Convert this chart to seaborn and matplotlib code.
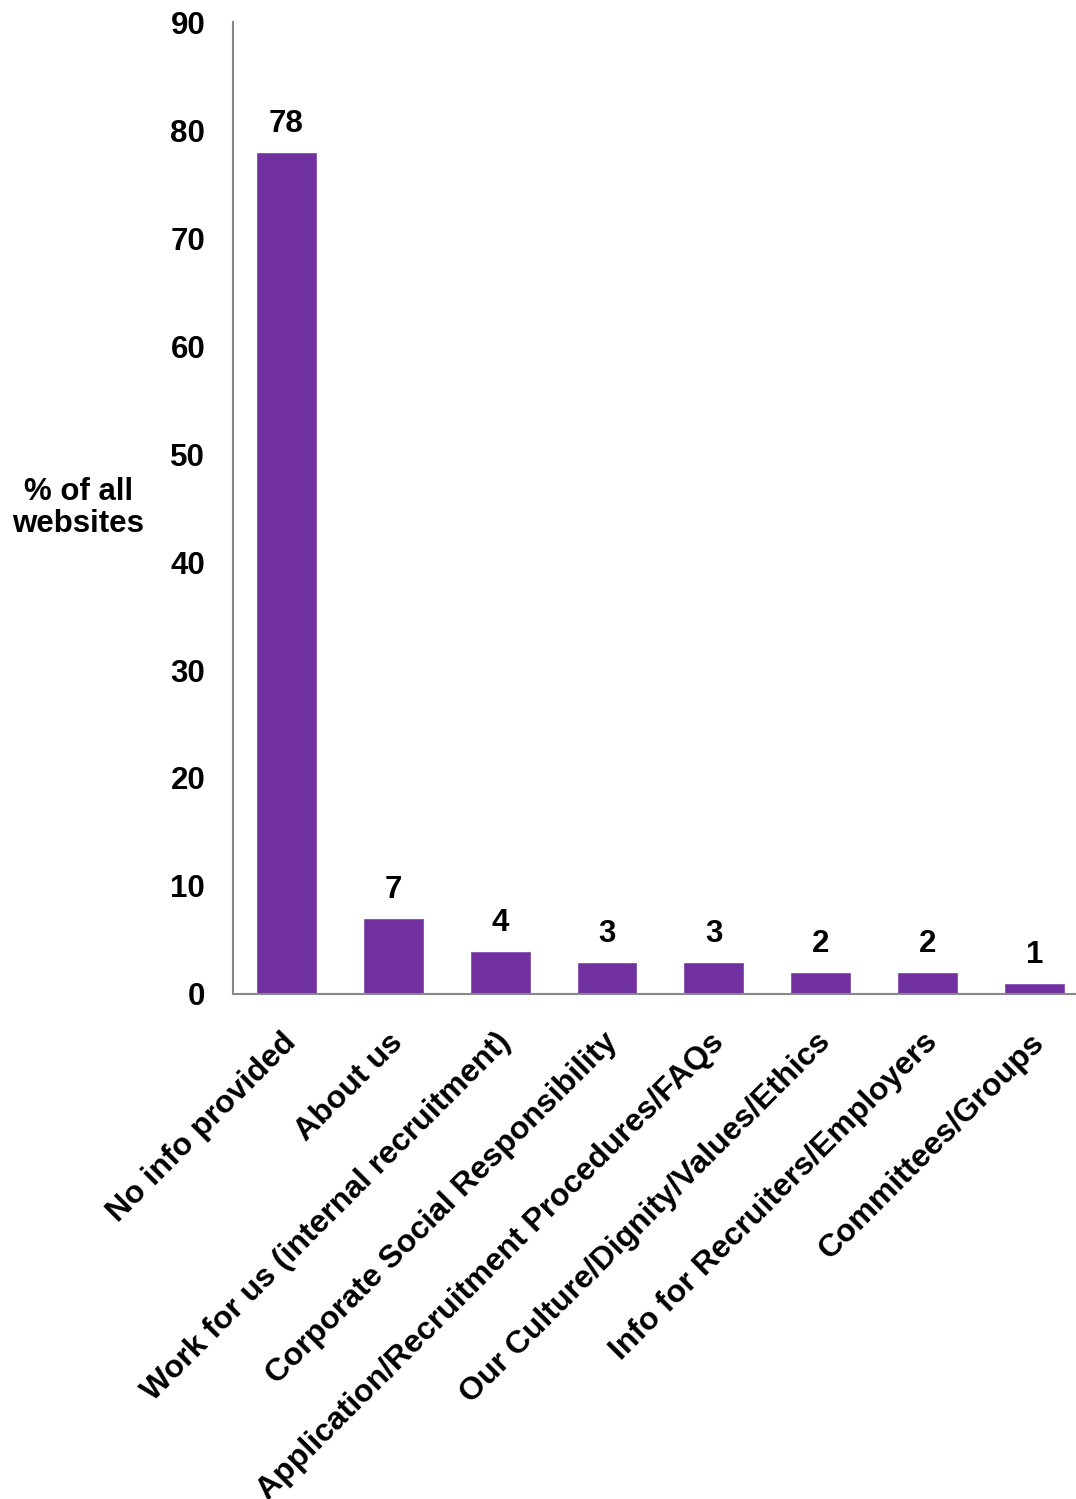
import seaborn as sns
import pandas as pd
import matplotlib.pyplot as plt
from matplotlib.transforms import ScaledTranslation

categories = ['No info provided', 'About us', 'Work for us (internal recruitment)',
              'Corporate Social Responsibility', 'Application/Recruitment Procedures/FAQs',
              'Our Culture/Dignity/Values/Ethics', 'Info for Recruiters/Employers',
              'Committees/Groups']
values = [78, 7, 4, 3, 3, 2, 2, 1]

df = pd.DataFrame({'cat': categories, 'val': values})

sns.set_style('white')
plt.rcParams['font.family'] = ['Liberation Sans', 'DejaVu Sans']
plt.rcParams['font.weight'] = 'bold'
plt.rcParams['text.color'] = 'black'
plt.rcParams['xtick.color'] = 'black'
plt.rcParams['ytick.color'] = 'black'

fig = plt.figure(figsize=(10.76, 14.99), dpi=100)
ax = fig.add_axes([0.2165, 0.3369, 0.7946, 0.6484])

sns.barplot(data=df, x='cat', y='val', color='#7030A0', saturation=1, width=0.57, ax=ax)

for i, v in enumerate(values):
    ax.text(i, v + 1.2, str(v), ha='center', va='bottom', fontsize=22.5,
            fontweight='bold', color='black')

ax.set_ylim(0, 90)
ax.set_xlim(-0.5, 7.5)
ax.set_yticks(range(0, 91, 10))
ax.tick_params(axis='y', length=0, pad=20, labelsize=22.5)
ax.tick_params(axis='x', length=0, pad=24, labelsize=23)
for lab in ax.get_yticklabels():
    lab.set_fontweight('bold')
ax.set_xticks(range(len(categories)))
ax.set_xticklabels(categories, rotation=45, ha='right', rotation_mode='anchor',
                   fontweight='bold', fontsize=23)
shift = ScaledTranslation(-5 / 100, 0, fig.dpi_scale_trans)
for lab in ax.get_xticklabels():
    lab.set_transform(lab.get_transform() + shift)

ax.set_xlabel('')
ax.set_ylabel('')
fig.text(0.073, 0.661, '% of all\nwebsites', ha='center', va='center',
         fontsize=22.5, fontweight='bold', linespacing=1.1, color='black')

for s in ['top', 'right']:
    ax.spines[s].set_visible(False)
for s in ['left', 'bottom']:
    ax.spines[s].set_color('#888888')
    ax.spines[s].set_linewidth(1.5)

fig.savefig('out.png', dpi=100)
